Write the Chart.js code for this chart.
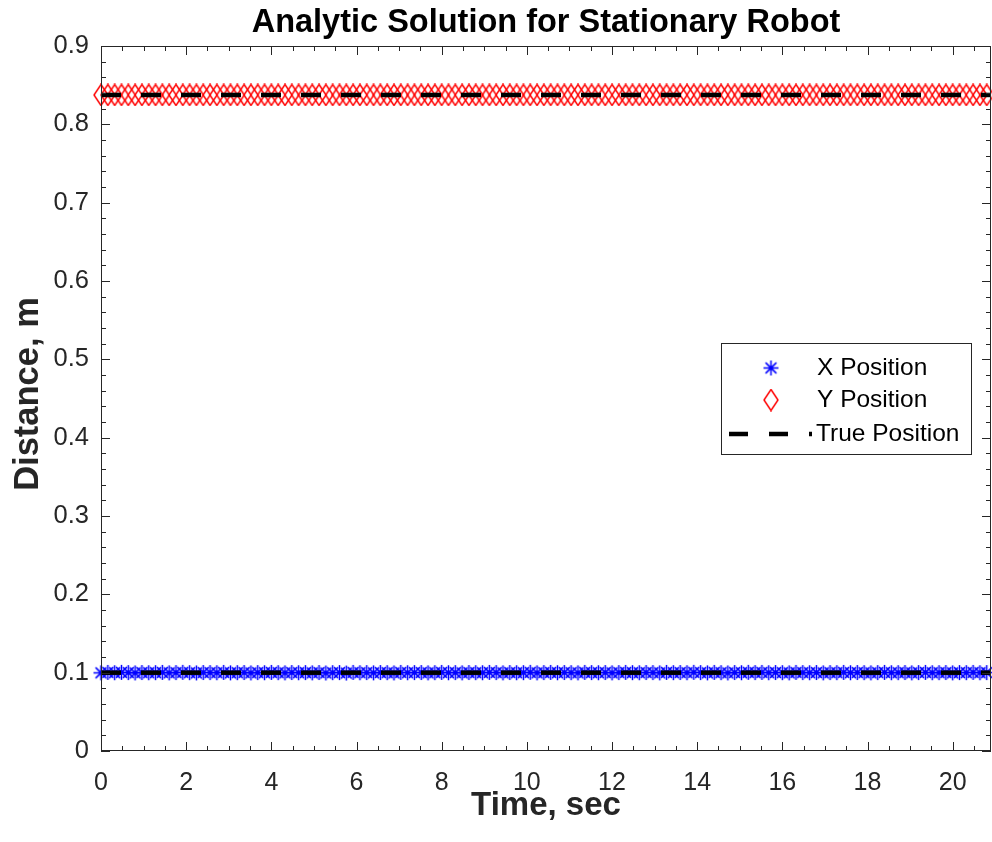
<!DOCTYPE html>
<html>
<head>
<meta charset="utf-8">
<title>Analytic Solution for Stationary Robot</title>
<script src="https://cdn.jsdelivr.net/npm/chart.js@4.4.1/dist/chart.umd.min.js"></script>
<style>
  html, body { margin: 0; padding: 0; background: #fff; }
  #wrap { width: 992px; height: 842px; position: relative; }
</style>
</head>
<body>
<div id="wrap"><canvas id="chart" width="992" height="842"></canvas></div>
<script>
// sample period of the robot log, seconds
const samplePeriod = 0.16;

// estimated X position (m), one value per sample
const xPosition = [
  0.0998, 0.1003, 0.0999, 0.1004, 0.1001, 0.0997, 0.1002, 0.0999, 0.1000, 0.1003,
  0.0998, 0.1001, 0.1004, 0.1000, 0.0997, 0.1002, 0.1001, 0.0999, 0.1003, 0.0998,
  0.1000, 0.1002, 0.0997, 0.1001, 0.0999, 0.1003, 0.1000, 0.0998, 0.1002, 0.0999,
  0.1001, 0.0998, 0.1002, 0.0996, 0.1000, 0.1001, 0.0995, 0.1003, 0.0999, 0.1001,
  0.0998, 0.1002, 0.1000, 0.0997, 0.1003, 0.0999, 0.1001, 0.1002, 0.0998, 0.1000,
  0.1003, 0.0999, 0.1001, 0.0998, 0.1002, 0.1000, 0.0999, 0.1003, 0.1001, 0.0998,
  0.1002, 0.0999, 0.1000, 0.1004, 0.0998, 0.1001, 0.1003, 0.0999, 0.1002, 0.1000,
  0.0998, 0.1003, 0.1001, 0.0999, 0.1002, 0.0998, 0.1001, 0.1003, 0.1000, 0.0999,
  0.1002, 0.1001, 0.0998, 0.1003, 0.1000, 0.1002, 0.0999, 0.1004, 0.1001, 0.0998,
  0.1003, 0.1000, 0.0997, 0.1002, 0.0999, 0.1004, 0.1001, 0.1003, 0.0999, 0.1002,
  0.1000, 0.0998, 0.1003, 0.1001, 0.0999, 0.1002, 0.0998, 0.1001, 0.1000, 0.1003,
  0.0999, 0.1002, 0.1000, 0.0998, 0.1001, 0.1003, 0.0999, 0.1000, 0.1002, 0.0998,
  0.1001, 0.1003, 0.0999, 0.1000, 0.1002, 0.0998, 0.1001, 0.1000, 0.1003, 0.0999,
  0.1001
];

// estimated Y position (m)
const yPosition = [
  0.8375, 0.8375, 0.8375, 0.8375, 0.8375, 0.8375, 0.8375, 0.8375, 0.8375, 0.8375,
  0.8375, 0.8375, 0.8375, 0.8375, 0.8375, 0.8375, 0.8375, 0.8375, 0.8375, 0.8375,
  0.8375, 0.8375, 0.8375, 0.8375, 0.8375, 0.8375, 0.8375, 0.8375, 0.8375, 0.8375,
  0.8375, 0.8375, 0.8375, 0.8375, 0.8375, 0.8375, 0.8375, 0.8375, 0.8375, 0.8375,
  0.8375, 0.8375, 0.8375, 0.8375, 0.8375, 0.8375, 0.8375, 0.8375, 0.8375, 0.8375,
  0.8375, 0.8375, 0.8375, 0.8375, 0.8375, 0.8375, 0.8375, 0.8375, 0.8375, 0.8375,
  0.8375, 0.8375, 0.8375, 0.8375, 0.8375, 0.8375, 0.8375, 0.8375, 0.8375, 0.8375,
  0.8375, 0.8375, 0.8375, 0.8375, 0.8375, 0.8375, 0.8375, 0.8375, 0.8375, 0.8375,
  0.8375, 0.8375, 0.8375, 0.8375, 0.8375, 0.8375, 0.8375, 0.8375, 0.8375, 0.8375,
  0.8375, 0.8375, 0.8375, 0.8375, 0.8375, 0.8375, 0.8375, 0.8375, 0.8375, 0.8375,
  0.8375, 0.8375, 0.8375, 0.8375, 0.8375, 0.8375, 0.8375, 0.8375, 0.8375, 0.8375,
  0.8375, 0.8375, 0.8375, 0.8375, 0.8375, 0.8375, 0.8375, 0.8375, 0.8375, 0.8375,
  0.8375, 0.8375, 0.8375, 0.8375, 0.8375, 0.8375, 0.8375, 0.8375, 0.8375, 0.8375,
  0.8375
];

// true position of the robot (x, y) in m, over the whole run
const trueX = 0.1;
const trueY = 0.8375;
const timeRange = [0, 20.9];

const legendLabels = ['X Position', 'Y Position', 'True Position'];
const xTickValues = [0, 2, 4, 6, 8, 10, 12, 14, 16, 18, 20];
const yTickValues = [0, 0.1, 0.2, 0.3, 0.4, 0.5, 0.6, 0.7, 0.8, 0.9];

const FONT = '"Liberation Sans", Arial, Helvetica, sans-serif';
const AXIS_COLOR = '#262626';

// matlab-ish marker images
function asteriskMarker(size, color) {
  const c = document.createElement('canvas');
  c.width = size; c.height = size;
  const g = c.getContext('2d');
  const r = size / 2 - 1, m = size / 2, d = r * 0.72;
  g.strokeStyle = color; g.lineWidth = 1.5;
  g.beginPath();
  g.moveTo(m - r, m); g.lineTo(m + r, m);
  g.moveTo(m, m - r); g.lineTo(m, m + r);
  g.moveTo(m - d, m - d); g.lineTo(m + d, m + d);
  g.moveTo(m - d, m + d); g.lineTo(m + d, m - d);
  g.stroke();
  return c;
}

function diamondMarker(w, h, color) {
  const c = document.createElement('canvas');
  c.width = w; c.height = h;
  const g = c.getContext('2d');
  g.strokeStyle = color; g.lineWidth = 1.5;
  g.beginPath();
  g.moveTo(w / 2, 1); g.lineTo(w - 1, h / 2); g.lineTo(w / 2, h - 1); g.lineTo(1, h / 2);
  g.closePath();
  g.stroke();
  return c;
}

const starImg = asteriskMarker(17, '#0000ff');
const diamondImg = diamondMarker(16, 23, '#ff0000');

const xPoints = xPosition.map((v, i) => ({ x: +(i * samplePeriod).toFixed(2), y: v }));
const yPoints = yPosition.map((v, i) => ({ x: +(i * samplePeriod).toFixed(2), y: v }));

// title, axis labels, inward ticks, box and legend
const decorations = {
  id: 'decorations',
  afterDraw(chart) {
    const { ctx, chartArea: a, scales } = chart;
    const sx = scales.x, sy = scales.y;
    ctx.save();

    // box
    ctx.strokeStyle = AXIS_COLOR;
    ctx.lineWidth = 1;
    ctx.strokeRect(a.left + 0.5, a.top + 0.5, a.right - a.left - 1, a.bottom - a.top - 1);

    // ticks pointing in
    ctx.beginPath();
    for (let v = 0; v <= timeRange[1] + 1e-9; v += 0.5) {
      const px = Math.round(sx.getPixelForValue(v)) + 0.5;
      const len = Math.abs(v % 2) < 1e-6 ? 9 : 5;
      ctx.moveTo(px, a.bottom); ctx.lineTo(px, a.bottom - len);
      ctx.moveTo(px, a.top); ctx.lineTo(px, a.top + len);
    }
    for (let k = 0; k <= 45; k++) {
      const v = k * 0.02;
      const py = Math.round(sy.getPixelForValue(v)) + 0.5;
      const len = k % 5 === 0 ? 9 : 5;
      ctx.moveTo(a.left, py); ctx.lineTo(a.left + len, py);
      ctx.moveTo(a.right, py); ctx.lineTo(a.right - len, py);
    }
    ctx.stroke();

    // title
    ctx.fillStyle = '#000';
    ctx.textAlign = 'center';
    ctx.textBaseline = 'middle';
    ctx.font = 'bold 32.5px ' + FONT;
    ctx.fillText('Analytic Solution for Stationary Robot', (a.left + a.right) / 2, 23);

    // axis titles
    ctx.fillStyle = AXIS_COLOR;
    ctx.font = 'bold 33px ' + FONT;
    ctx.fillText('Time, sec', (a.left + a.right) / 2, 806);
    ctx.font = 'bold 34.5px ' + FONT;
    ctx.save();
    ctx.translate(28, 394);
    ctx.rotate(-Math.PI / 2);
    ctx.fillText('Distance, m', 0, 0);
    ctx.restore();

    // legend
    const box = { l: 721, t: 343, r: 971, b: 454 };
    ctx.fillStyle = '#fff';
    ctx.fillRect(box.l, box.t, box.r - box.l, box.b - box.t);
    ctx.strokeStyle = AXIS_COLOR;
    ctx.lineWidth = 1;
    ctx.strokeRect(box.l + 0.5, box.t + 0.5, box.r - box.l, box.b - box.t);

    const rows = [368, 400, 434];
    ctx.drawImage(starImg, 771 - starImg.width / 2, rows[0] - starImg.height / 2);
    ctx.drawImage(diamondImg, 771 - diamondImg.width / 2, rows[1] - diamondImg.height / 2);
    ctx.strokeStyle = '#000';
    ctx.lineWidth = 4.5;
    ctx.setLineDash([19, 21]);
    ctx.beginPath();
    ctx.moveTo(729, rows[2]); ctx.lineTo(812, rows[2]);
    ctx.stroke();
    ctx.setLineDash([]);

    ctx.fillStyle = '#000';
    ctx.textAlign = 'left';
    ctx.font = '24.5px ' + FONT;
    ctx.fillText(legendLabels[0], 817, rows[0]);
    ctx.fillText(legendLabels[1], 817, rows[1]);
    ctx.fillText(legendLabels[2], 816, rows[2]);

    ctx.restore();
  }
};

new Chart(document.getElementById('chart'), {
  type: 'scatter',
  data: {
    datasets: [
      {
        label: legendLabels[2],
        type: 'line',
        data: [{ x: timeRange[0], y: trueY }, { x: timeRange[1], y: trueY }],
        borderColor: '#000',
        borderWidth: 4.5,
        borderDash: [20, 20],
        pointRadius: 0,
        order: 0
      },
      {
        label: legendLabels[2] + ' x',
        type: 'line',
        data: [{ x: timeRange[0], y: trueX }, { x: timeRange[1], y: trueX }],
        borderColor: '#000',
        borderWidth: 4.5,
        borderDash: [20, 20],
        pointRadius: 0,
        order: 0
      },
      {
        label: legendLabels[1],
        data: yPoints,
        pointStyle: diamondImg,
        pointRadius: 8,
        clip: false,
        order: 1
      },
      {
        label: legendLabels[0],
        data: xPoints,
        pointStyle: starImg,
        pointRadius: 8,
        clip: false,
        order: 2
      }
    ]
  },
  options: {
    responsive: false,
    animation: false,
    layout: { autoPadding: false, padding: { top: 46, right: 1, left: 0, bottom: 0 } },
    plugins: {
      legend: { display: false },
      title: { display: false },
      tooltip: { enabled: false }
    },
    scales: {
      x: {
        type: 'linear',
        min: timeRange[0],
        max: timeRange[1],
        afterFit: s => { s.height = 91; s.paddingLeft = 0; s.paddingRight = 0; },
        afterBuildTicks: s => { s.ticks = xTickValues.map(v => ({ value: v })); },
        grid: { display: false, drawTicks: false },
        border: { display: false },
        ticks: {
          color: AXIS_COLOR,
          font: { family: FONT, size: 25 },
          padding: 17,
          maxRotation: 0
        }
      },
      y: {
        type: 'linear',
        min: 0,
        max: 0.9,
        afterFit: s => { s.width = 101; s.paddingTop = 0; s.paddingBottom = 0; },
        afterBuildTicks: s => { s.ticks = yTickValues.map(v => ({ value: v })); },
        grid: { display: false, drawTicks: false },
        border: { display: false },
        ticks: {
          color: AXIS_COLOR,
          font: { family: FONT, size: 25.5 },
          padding: 12,
          callback: v => (v === 0 ? '0' : v.toFixed(1))
        }
      }
    }
  },
  plugins: [decorations]
});
</script>
</body>
</html>
